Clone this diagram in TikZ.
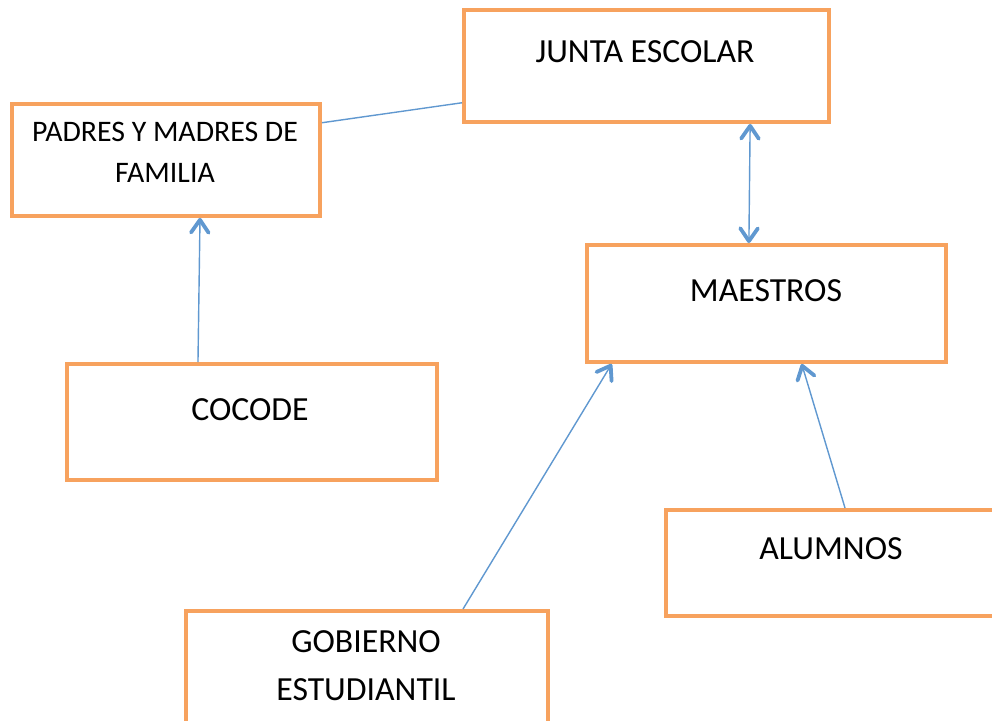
\documentclass[tikz,border=0pt]{standalone}
\usepackage{fontspec}
\setmainfont{Carlito}
\usetikzlibrary{arrows.meta}

\definecolor{boxorange}{RGB}{247,162,94}
\definecolor{linkblue}{RGB}{96,152,208}

\tikzset{
  barb/.tip={Straight Barb[length=3.2mm,width=4.4mm,line width=2.7pt,round]},
  orgbox/.style={draw=boxorange,line width=2.8pt,rectangle,inner sep=0pt},
  orgtext/.style={anchor=base,align=center,font=\fontsize{24}{34}\selectfont},
  link/.style={draw=linkblue,line width=1pt}
}

\begin{document}
\begin{tikzpicture}[x=0.025cm,y=-0.025cm]
\useasboundingbox (0,0) rectangle (992,721);
\clip (0,0) rectangle (992,721);

\node[orgbox,minimum width=9.125cm,minimum height=2.81cm] (junta) at (646.5,65.75) {};
\node[orgbox,minimum width=7.7cm,minimum height=2.81cm] (padres) at (166,159.75) {};
\node[orgbox,minimum width=8.975cm,minimum height=2.925cm] (maestros) at (766.5,303.5) {};
\node[orgbox,minimum width=9.24cm,minimum height=2.9cm] (cocode) at (251.75,422) {};
\node[orgbox,minimum width=8.25cm,minimum height=2.64cm] (alumnos) at (831,562.75) {};
\node[orgbox,minimum width=9.05cm,minimum height=2.925cm] (gobierno) at (367,669.5) {};

% base anchor sits on the last line
\node[orgtext] (juntatext) at (645,63) {JUNTA ESCOLAR};
\node[orgtext,font=\fontsize{21.2}{29.2}\selectfont] (padrestext) at (165,182.7) {PADRES Y MADRES DE\\FAMILIA};
\node[orgtext] (maestrostext) at (766,301) {MAESTROS};
\node[orgtext] (cocodetext) at (250,420) {COCODE};
\node[orgtext] (alumnostext) at (831,559) {ALUMNOS};
\node[orgtext] (gobiernotext) at (366,700) {GOBIERNO\\ESTUDIANTIL};

\draw[link] ([yshift=0.925cm]padres.east) -- ([yshift=-0.925cm]junta.west);
\draw[link,barb-barb] ([xshift=2.59cm]junta.south) -- ([xshift=-0.44cm]maestros.north);
\draw[link,-barb] ([xshift=-1.344cm]cocode.north) -- ([xshift=0.85cm]padres.south);
\draw[link,-barb] ([xshift=2.4cm]gobierno.north) -- ([xshift=-3.87cm]maestros.south);
\draw[link,-barb] ([xshift=0.35cm]alumnos.north) -- ([xshift=0.88cm]maestros.south);
\end{tikzpicture}
\end{document}
